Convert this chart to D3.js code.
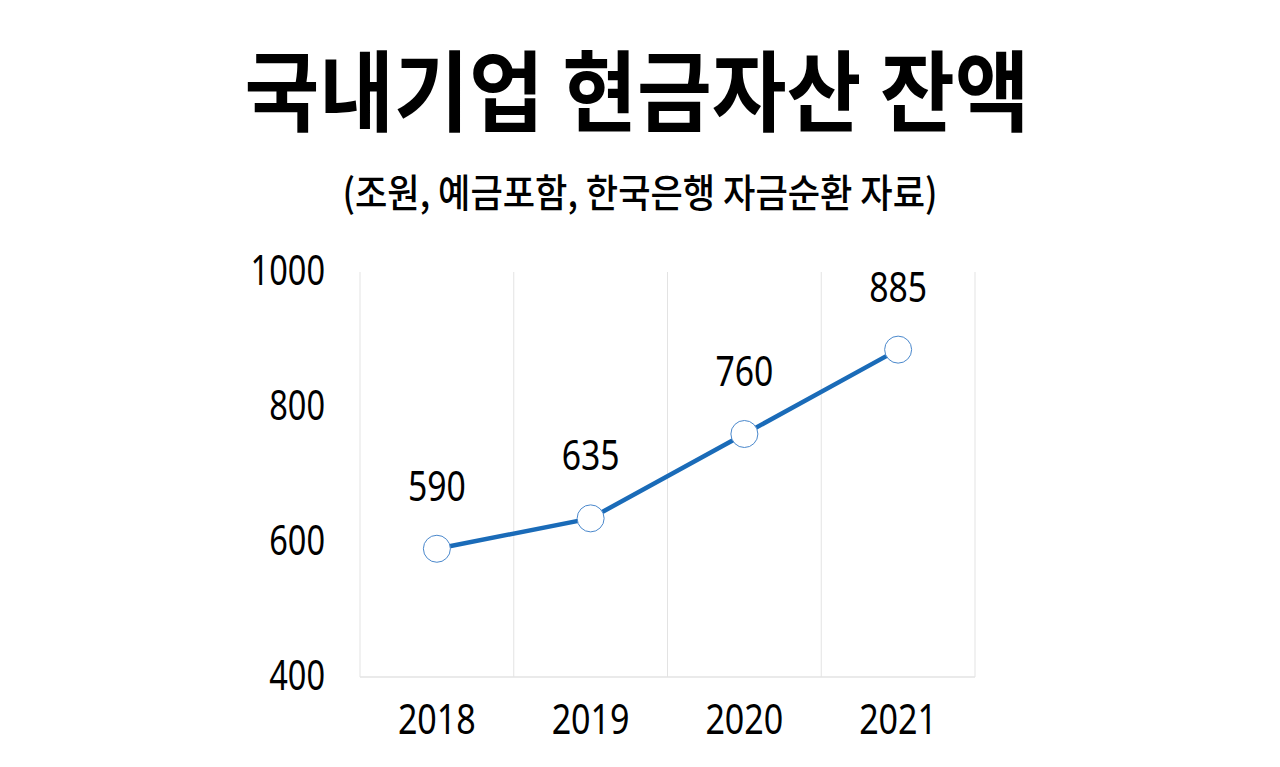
<!DOCTYPE html>
<html><head><meta charset="utf-8">
<script src="https://cdn.jsdelivr.net/npm/d3@7"></script>
<style>body{margin:0;background:#fff}svg{display:block}</style>
</head><body>
<script>
const title = "국내기업 현금자산 잔액";
const subtitle = "(조원, 예금포함, 한국은행 자금순환 자료)";
const years = ["2018", "2019", "2020", "2021"];
const values = [590, 635, 760, 885];
const yTicks = [400, 600, 800, 1000];

(function(){
const W = 1280, H = 767;
const svg = d3.select("body").append("svg").attr("width", W).attr("height", H);
svg.append("rect").attr("width", W).attr("height", H).attr("fill", "#fff");

const pL = 360, pR = 975, pT = 272, pB = 677;
const x = d3.scaleBand().domain(years).range([pL, pR]);
const y = d3.scaleLinear().domain([400, 1000]).range([pB, pT]);

const numFont = "'Noto Sans', sans-serif";
const fs = 41;

svg.append("text").attr("x", 637).attr("y", 124).attr("text-anchor", "middle")
  .attr("font-family", "'Noto Sans CJK KR'").attr("font-weight", 700).attr("font-size", 88)
  .attr("textLength", 785).attr("lengthAdjust", "spacingAndGlyphs").attr("fill", "#000").text(title);
svg.append("text").attr("x", 640).attr("y", 207).attr("text-anchor", "middle")
  .attr("font-family", "'Noto Sans CJK KR'").attr("font-weight", 500).attr("font-size", 39)
  .attr("textLength", 595).attr("lengthAdjust", "spacingAndGlyphs").attr("fill", "#000").text(subtitle);

const edges = years.map(d => x(d)).concat([pR]);
svg.append("g").selectAll("line").data(edges).join("line")
  .attr("x1", d => d).attr("x2", d => d).attr("y1", pT).attr("y2", pB)
  .attr("stroke", "#e3e3e3").attr("stroke-width", 1);
svg.append("line").attr("x1", pL).attr("x2", pR).attr("y1", pB).attr("y2", pB)
  .attr("stroke", "#e3e3e3").attr("stroke-width", 1.5);

const yAxis = svg.append("g").attr("transform", `translate(${pL},0)`)
  .call(d3.axisLeft(y).tickValues(yTicks).tickSize(0).tickPadding(35).tickFormat(d3.format("d")));
yAxis.select(".domain").remove();
yAxis.selectAll("text").attr("font-family", numFont).attr("font-size", fs).attr("fill", "#000")
  .attr("dy", "0.3em")
  .attr("textLength", d => String(d).length * 18.6).attr("lengthAdjust", "spacingAndGlyphs");

const xAxis = svg.append("g").attr("transform", `translate(0,${pB})`)
  .call(d3.axisBottom(x).tickSize(0).tickPadding(0));
xAxis.select(".domain").remove();
xAxis.selectAll("text").attr("font-family", numFont).attr("font-size", fs).attr("fill", "#000")
  .attr("dy", 0).attr("y", 57)
  .attr("textLength", d => d.length * 19.5).attr("lengthAdjust", "spacingAndGlyphs");

const cx = d => x(d) + x.bandwidth() / 2;
const pts = years.map((d, i) => ({year: d, v: values[i]}));

svg.append("path").datum(pts)
  .attr("d", d3.line().x(d => cx(d.year)).y(d => y(d.v)))
  .attr("fill", "none").attr("stroke", "#1a6bb8").attr("stroke-width", 4.5);

svg.append("g").selectAll("circle").data(pts).join("circle")
  .attr("cx", d => cx(d.year)).attr("cy", d => y(d.v)).attr("r", 13.5)
  .attr("fill", "#fff").attr("stroke", "#4a88cc").attr("stroke-width", 1);

svg.append("g").selectAll("text").data(pts).join("text")
  .attr("x", d => cx(d.year)).attr("y", d => y(d.v) - 48)
  .attr("text-anchor", "middle").attr("font-family", numFont).attr("font-size", fs).attr("fill", "#000")
  .attr("textLength", d => String(d.v).length * 19.3).attr("lengthAdjust", "spacingAndGlyphs")
  .text(d => d.v);
})();
</script>
</body></html>
